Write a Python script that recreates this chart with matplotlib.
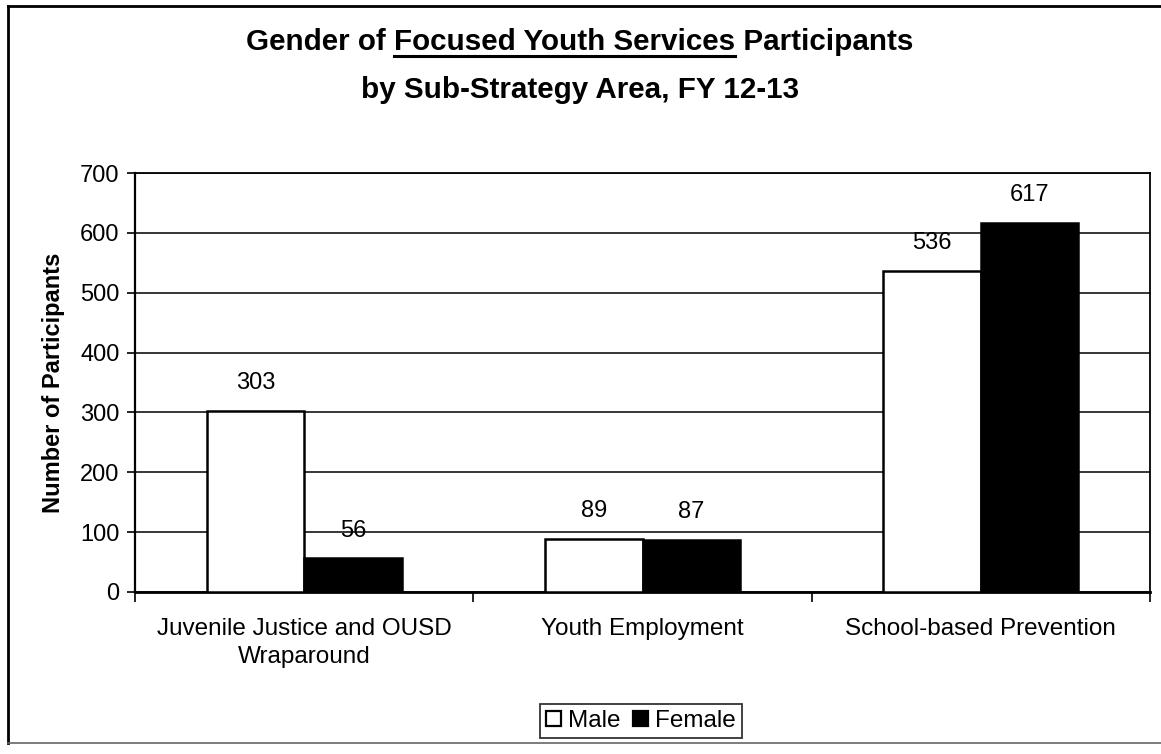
import numpy as np
import matplotlib
matplotlib.use("Agg")
import matplotlib.pyplot as plt
from matplotlib.lines import Line2D
from matplotlib.patches import Patch

plt.rcParams['font.family'] = ['Liberation Sans', 'DejaVu Sans']

# participants per sub-strategy area, FY 12-13
areas = ["Juvenile Justice and OUSD\nWraparound", "Youth Employment", "School-based Prevention"]
male = [303, 89, 536]
female = [56, 87, 617]
y_ticks = [0, 100, 200, 300, 400, 500, 600, 700]

TITLE_FS = 21.3

fig = plt.figure(figsize=(11.61, 7.54), dpi=100)
ax = fig.add_axes([135 / 1161, 1 - 592 / 754, 1015 / 1161, 419 / 754])

x = np.arange(len(areas))
w = 0.288
b_m = ax.bar(x - w / 2, male, w, color="white", edgecolor="black", linewidth=1.8, zorder=3)
b_f = ax.bar(x + w / 2, female, w, color="black", edgecolor="black", linewidth=1.8, zorder=3)

for bars, vals in ((b_m, male), (b_f, female)):
    for r, v in zip(bars, vals):
        ax.annotate(str(v), (r.get_x() + r.get_width() / 2, v), xytext=(0, 12),
                    textcoords="offset points", ha="center", va="bottom", fontsize=17)

ax.set_xlim(-0.5, len(areas) - 0.5)
ax.set_ylim(0, 700)
ax.set_yticks(y_ticks)
ax.tick_params(axis="y", length=6, width=1.2, labelsize=17, pad=5)
ax.yaxis.grid(True, color="black", linewidth=1.1, zorder=0)

# tick marks between categories, labels under each category
ax.set_xticks(np.arange(len(areas) + 1) - 0.5)
ax.set_xticklabels([])
ax.tick_params(axis="x", which="major", length=7, width=1.2, direction="out")
ax.set_xticks(x, minor=True)
ax.set_xticklabels(areas, minor=True, fontsize=17.5, linespacing=1.35)
ax.tick_params(axis="x", which="minor", length=0, pad=19)

for s in ax.spines.values():
    s.set_linewidth(1.3)
ax.spines["left"].set_linewidth(1.6)
ax.spines["bottom"].set_linewidth(2.0)

ax.set_ylabel("Number of Participants", fontsize=17, fontweight="bold", labelpad=11)

# title, with the program name underlined
tx, ty = 580 / 1161, 1 - 50 / 754
line1 = "Gender of Focused Youth Services Participants"
fig.text(tx, ty, line1, ha="center", va="baseline", fontsize=TITLE_FS, fontweight="bold")
fig.text(tx, 1 - 98 / 754, "by Sub-Strategy Area, FY 12-13", ha="center", va="baseline",
         fontsize=TITLE_FS, fontweight="bold")

fig.canvas.draw()
rend = fig.canvas.get_renderer()


def text_w(s):
    t = fig.text(0, 0, s, fontsize=TITLE_FS, fontweight="bold")
    ww = t.get_window_extent(rend).width
    t.remove()
    return ww


full = text_w(line1)
left_px = tx * 1161 - full / 2
x0 = left_px + text_w("Gender of x") - text_w("x")
x1 = x0 + text_w("Focused Youth Services")
uy = 1 - 56 / 754
fig.add_artist(Line2D([x0 / 1161, x1 / 1161], [uy, uy], color="black", linewidth=2.2,
                      transform=fig.transFigure))

handles = [Patch(facecolor="white", edgecolor="black", linewidth=1.6),
           Patch(facecolor="black", edgecolor="black", linewidth=1.6)]
leg = fig.legend(handles, ["Male", "Female"], loc="center", bbox_to_anchor=(641 / 1161, 1 - 721 / 754),
                 ncol=2, fontsize=17.5, frameon=True, fancybox=False, edgecolor="black",
                 handlelength=0.6, handleheight=0.6, handletextpad=0.3, columnspacing=0.5,
                 borderpad=0.25, borderaxespad=0)
leg.get_frame().set_linewidth(1.3)

# outer chart border
fx0, fy_top, fy_bot = 8 / 1161, 1 - 6 / 754, 1 - 743 / 754
fig.add_artist(Line2D([fx0, 1.0], [fy_top, fy_top], color="black", linewidth=2, transform=fig.transFigure))
fig.add_artist(Line2D([fx0, fx0], [fy_top, fy_bot], color="black", linewidth=2, transform=fig.transFigure))
fig.add_artist(Line2D([fx0, 1.0], [fy_bot, fy_bot], color="0.4", linewidth=1.2, transform=fig.transFigure))

fig.savefig("out.png", dpi=100)
